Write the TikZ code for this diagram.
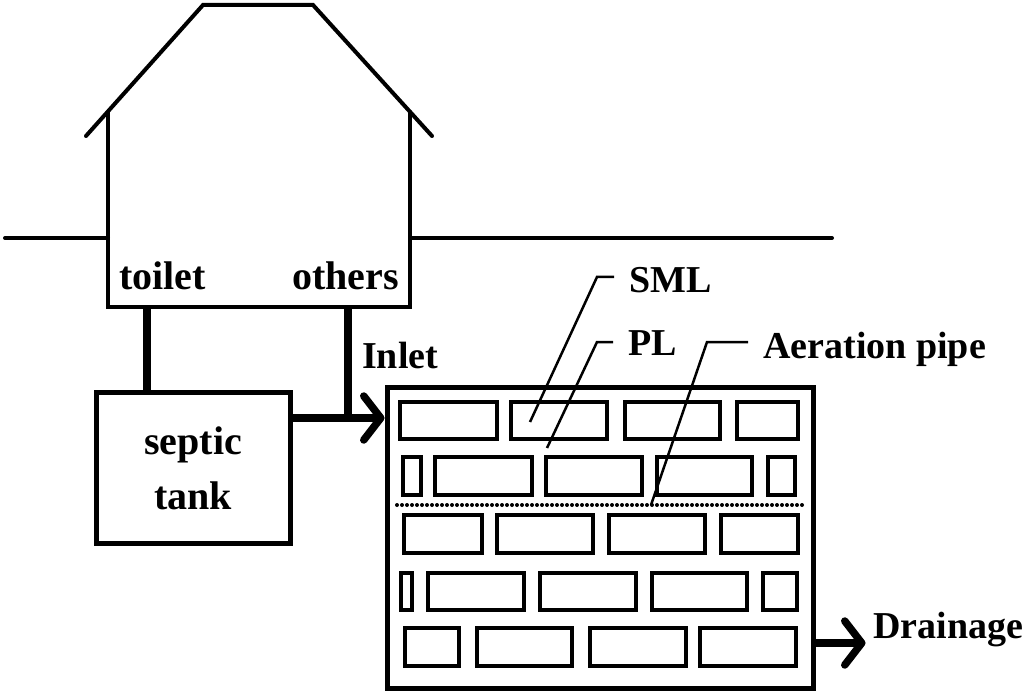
\documentclass[tikz,border=0pt]{standalone}
\usepackage{fontspec}
\setmainfont{Liberation Serif}
\usetikzlibrary{arrows.meta}

\tikzset{
  wall/.style={line width=4pt, line cap=round, line join=miter},
  pipe/.style={line width=7.5pt},
  brick/.style={draw, line width=4.5pt},
  leader/.style={line width=2.5pt},
  lbl/.style={font=\bfseries\fontsize{38}{44}\selectfont, inner sep=0pt, anchor=base west},
  hlbl/.style={font=\bfseries\fontsize{40}{46}\selectfont, inner sep=0pt, anchor=base west},
  chevron/.style={-{Straight Barb[length=17pt,width=44pt,round]}}
}

\begin{document}
\begin{tikzpicture}[x=1pt, y=-1pt]
    \useasboundingbox (0,0) rectangle (1024,692);

    % Ground
    \draw[wall] (5,238) -- (108,238);
    \draw[wall] (410,238) -- (832,238);

    % House
    \draw[wall] (86,136) -- (203,5) -- (313,5) -- (432,136);
    \draw[wall] (108,112) -- (108,307) -- (410,307) -- (410,112);
    \coordinate (toiletout) at (147,307);
    \coordinate (othersout) at (348,307);
    \node[hlbl] (toilet) at (119,290) {toilet};
    \node[hlbl] (others) at (292,290) {others};

    % Septic tank
    \node[draw, line width=5pt, minimum width=194pt, minimum height=151pt,
          align=center, font=\bfseries\fontsize{40}{55}\selectfont] (tank) at (193,468) {septic\\tank};

    % Treatment bed
    \node[draw, line width=5pt, minimum width=426pt, minimum height=301pt, inner sep=0pt] (bed) at (600,537.5) {};

    % Bricks, row by row
    \foreach \xa/\xb in {400/497,511/607,625/720,737/798}
        \draw[brick] (\xa,402) rectangle (\xb,439);
    \foreach \xa/\xb in {403/421,435/532,546/642,657/752,768/795}
        \draw[brick] (\xa,457) rectangle (\xb,495);
    \foreach \xa/\xb in {404/482,497/593,609/705,721/798}
        \draw[brick] (\xa,515) rectangle (\xb,553);
    \foreach \xa/\xb in {401/412,428/524,540/636,652/747,763/797}
        \draw[brick] (\xa,573) rectangle (\xb,610);
    \foreach \xa/\xb in {405/459,477/572,590/686,700/796}
        \draw[brick] (\xa,628) rectangle (\xb,666);

    % Aeration pipe
    \draw[line width=4pt, line cap=round, dash pattern=on 0pt off 5pt] (397,505) -- (804,505);

    % Pipes
    \coordinate (inletj) at (348,418);
    \draw[pipe] (toiletout) -- (toiletout |- tank.north);
    \draw[pipe] (othersout) -- (inletj);
    \draw[pipe, chevron] (tank.east |- inletj) -- (bed.west |- inletj);
    \node[lbl] (inlet) at (362,368) {Inlet};

    \coordinate (drainj) at (0,643);
    \draw[pipe, chevron] (bed.east |- drainj) -- ++(50,0);
    \node[lbl] (drain) at (873,638) {Drainage};

    % Labels with leaders
    \node[lbl] (sml) at (629,293) {SML};
    \node[lbl] (pl) at (628,355) {PL};
    \node[lbl] (aer) at (763,358) {Aeration pipe};
    \coordinate (smlpt) at (530,422);
    \coordinate (plpt) at (547,448);
    \coordinate (aerpt) at (651,505);
    \draw[leader] ([shift={(-15,-16)}]sml.base west) -- ++(-17,0) -- (smlpt);
    \draw[leader] ([shift={(-15,-13)}]pl.base west) -- ++(-16,0) -- (plpt);
    \draw[leader] ([shift={(-15,-16)}]aer.base west) -- ++(-41,0) -- (aerpt);
\end{tikzpicture}
\end{document}
